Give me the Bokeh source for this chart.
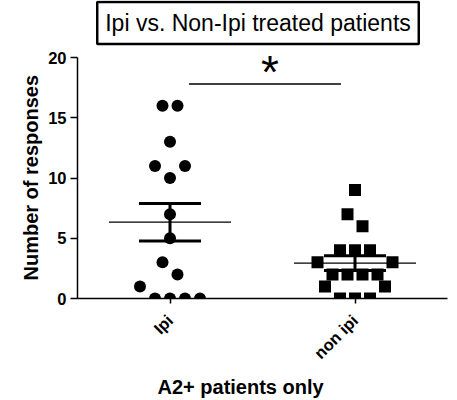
import math
import numpy as np
from bokeh.plotting import figure
from bokeh.models import Range1d, FixedTicker, Label, Title
from bokeh.embed import file_html
from bokeh.resources import INLINE

# ---------------- data ----------------
categories = ["Ipi", "non ipi"]
title_text = "Ipi vs. Non-Ipi treated patients"
y_title = "Number of responses"
x_title = "A2+ patients only"
y_ticks = [0, 5, 10, 15, 20]

ipi_values = [16, 16, 13, 11, 11, 10, 7, 5, 3, 2, 1, 0, 0, 0, 0]
# scatter column (in symbol slots) of each point, as arranged in the reference
ipi_column = [-0.5, 0.5, 0, -1, 1, 0, 0, 0, -0.5, 0.5, -2, -1, 0, 1, 2]

non_values = [9, 7, 6, 4, 4, 4, 3, 3, 2, 2, 2, 2, 1, 1, 0, 0, 0]
non_column = [0, -0.5, 0.5, -1, 0, 1, -2.5, 2.5, -1.5, -0.5, 0.5, 1.5, -2, 2, -1, 0, 1]

sig_text = "*"

# ---------------- layout ----------------
W, H = 457, 400
L, R, B = 77, 10, 102
AX_TOP = 57                      # pixel row where the y axis ends (value 20)
FW = W - L - R                   # frame width
FH = H - B                       # frame height (frame reaches the top edge)
y_max = y_ticks[-1]
y_top = y_max * FH / (FH - AX_TOP)
x_lo, x_hi = 0.5, 2.5
px = (x_hi - x_lo) / FW          # data units per pixel (x)
slot = 15 * px
FONT = "Liberation Sans"

p = figure(width=W, height=H, output_backend="svg", toolbar_location=None,
           x_range=Range1d(x_lo, x_hi), y_range=Range1d(0, y_top),
           min_border_left=L, min_border_right=R, min_border_top=0,
           min_border_bottom=B)
p.outline_line_color = None
p.xgrid.grid_line_color = None
p.ygrid.grid_line_color = None
p.background_fill_color = "white"
p.border_fill_color = "white"

# axes
for ax in (p.xaxis[0], p.yaxis[0]):
    ax.axis_line_color = "black"
    ax.axis_line_width = 1.5
    ax.major_tick_line_color = "black"
    ax.major_tick_line_width = 1.5
    ax.major_tick_in = 0
    ax.minor_tick_line_color = None
    ax.major_label_text_font = FONT
    ax.major_label_text_font_style = "bold"
    ax.major_label_text_color = "black"

p.yaxis.ticker = FixedTicker(ticks=y_ticks)
p.yaxis.bounds = (y_ticks[0], y_max)
p.yaxis.major_tick_out = 7
p.yaxis.major_label_standoff = 4
p.yaxis.major_label_text_font_size = "16.5px"

p.xaxis.ticker = FixedTicker(ticks=[i + 1 for i in range(len(categories))])
p.xaxis.major_label_overrides = {i + 1: c for i, c in enumerate(categories)}
p.xaxis.major_tick_out = 5
p.xaxis.major_label_orientation = math.pi / 4
p.xaxis.major_label_standoff = 14
p.xaxis.major_label_text_font_size = "16.5px"

# ---------------- points ----------------
groups = [(ipi_values, ipi_column, "circle"), (non_values, non_column, "square")]
for gi, (vals, cols, marker) in enumerate(groups):
    xs = [gi + 1 + c * slot for c in cols]
    p.scatter(xs, vals, marker=marker, size=12, fill_color="black",
              line_color="black", line_width=0)

# ---------------- mean +/- SEM ----------------
mean_half = 61 * px
cap_half = 31 * px
for gi, (vals, cols, marker) in enumerate(groups):
    v = np.array(vals, dtype=float)
    m = v.mean()
    sem = v.std(ddof=1) / math.sqrt(len(v))
    xc = gi + 1
    p.segment([xc - mean_half], [m], [xc + mean_half], [m],
              line_color="black", line_width=1.2)
    p.segment([xc], [m - sem], [xc], [m + sem], line_color="black", line_width=3)
    p.segment([xc - cap_half, xc - cap_half], [m - sem, m + sem],
              [xc + cap_half, xc + cap_half], [m - sem, m + sem],
              line_color="black", line_width=3)

# ---------------- significance bracket ----------------
sig_y = 17.8
p.segment([1 + 19 * px], [sig_y], [2 - 14 * px], [sig_y], line_color="black", line_width=1.5)
p.add_layout(Label(x=1.54, y=sig_y, text=sig_text, text_font=FONT,
                   text_font_size="46px", text_align="center",
                   text_baseline="bottom", text_color="black", y_offset=-14))

# ---------------- title box (inside the tall frame) & axis titles ----------------
p.add_layout(Label(x=257.5 - L, y=FH - 22.5, x_units="screen", y_units="screen",
                   text=title_text, text_font=FONT, text_font_size="23px",
                   text_align="center", text_baseline="middle", text_color="black",
                   border_line_color="black", border_line_width=2.5,
                   background_fill_color="white", padding=8))
p.add_layout(Title(text=y_title, align="left", offset=18, text_font=FONT,
                   text_font_size="20px", text_font_style="bold",
                   text_color="black", standoff=8), "left")
p.add_layout(Title(text=x_title, align="left", offset=80, text_font=FONT,
                   text_font_size="20px", text_font_style="bold",
                   text_color="black", standoff=5), "below")

open("out.html", "w").write(file_html(p, INLINE))
